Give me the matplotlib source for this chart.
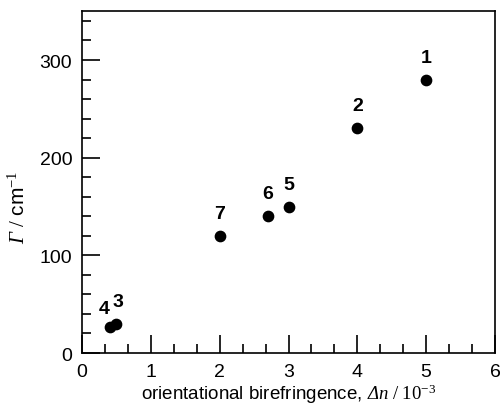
import matplotlib.pyplot as plt
from matplotlib.ticker import MultipleLocator

plt.rcParams['font.family'] = ['Liberation Sans', 'DejaVu Sans']
# rm is italic so capital Greek comes out slanted; sf gives upright serif
plt.rcParams['mathtext.fontset'] = 'custom'
plt.rcParams['mathtext.rm'] = 'Liberation Serif:italic'
plt.rcParams['mathtext.it'] = 'Liberation Serif:italic'
plt.rcParams['mathtext.sf'] = 'Liberation Serif'

# Data
labels = ['1', '2', '3', '4', '5', '6', '7']
birefringence = [5.0, 4.0, 0.5, 0.4, 3.0, 2.7, 2.0]
gamma = [280, 230, 30, 27, 150, 140, 120]

# label offsets (points) so 3 and 4 don't collide
offsets = {'1': (0, 10), '2': (0, 10), '3': (1, 10), '4': (-4, 7),
           '5': (0, 10), '6': (0, 10), '7': (0, 10)}

fig = plt.figure(figsize=(5, 4.06), dpi=100)
ax = fig.add_axes([0.164, 0.128, 0.826, 0.842])

ax.scatter(birefringence, gamma, s=55, color='black', zorder=3)
for lab, x, y in zip(labels, birefringence, gamma):
    ax.annotate(lab, (x, y), xytext=offsets[lab], textcoords='offset points',
                ha='center', va='bottom', fontsize=14, fontweight='bold')

ax.set_xlim(0, 6)
ax.set_ylim(0, 350)
ax.xaxis.set_major_locator(MultipleLocator(1))
ax.xaxis.set_minor_locator(MultipleLocator(1 / 3))
ax.yaxis.set_major_locator(MultipleLocator(100))
ax.yaxis.set_minor_locator(MultipleLocator(20))
ax.tick_params(which='both', direction='in', top=False, right=False,
               width=1.2, labelsize=14)
ax.tick_params(which='major', length=13)
ax.tick_params(which='minor', length=6.5)
ax.tick_params(axis='x', pad=7)
ax.tick_params(axis='y', pad=7)
for sp in ax.spines.values():
    sp.set_linewidth(1.2)

ax.set_xlabel(r'orientational birefringence, $Δn\ \mathsf{/\ 10}^{\mathsf{-3}}$',
              fontsize=13.5, labelpad=1)
ax.set_ylabel(r'$Γ\ \mathsf{/}$ cm$^{\mathsf{-1}}$', fontsize=15)
ax.yaxis.set_label_coords(-0.128, 0.43)

plt.savefig('out.png', dpi=100)
